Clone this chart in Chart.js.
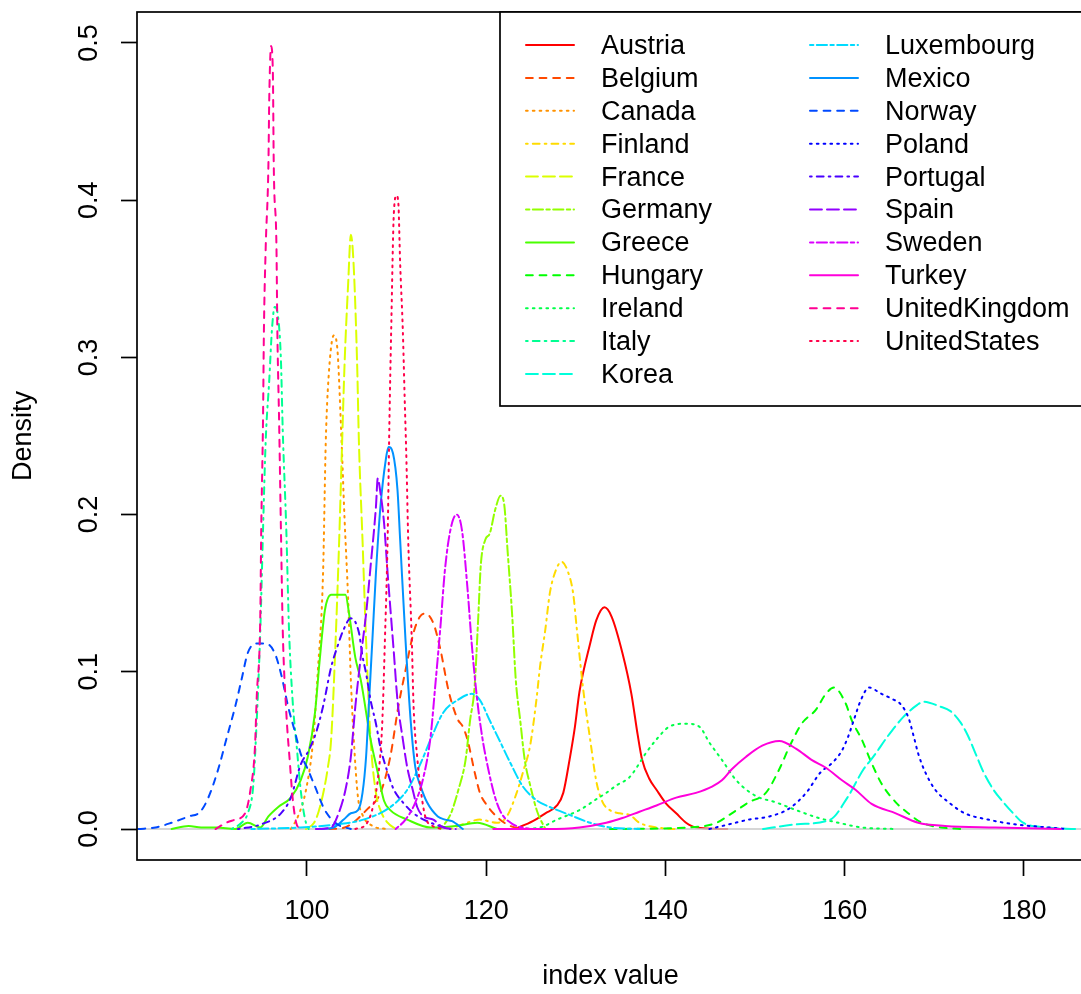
<!DOCTYPE html>
<html>
<head>
<meta charset="utf-8">
<title>Density of index value by country</title>
<script src="https://cdn.jsdelivr.net/npm/chart.js@4.4.1/dist/chart.umd.min.js"></script>
<style>
  html, body { margin: 0; padding: 0; background: #fff; overflow: hidden; }
  #wrap { width: 1084px; height: 994px; }
</style>
</head>
<body>
<div id="wrap"><canvas id="chart" width="1084" height="994"></canvas></div>
<script>
// Kernel density of the index value per country
const countries = ['Austria', 'Belgium', 'Canada', 'Finland', 'France', 'Germany', 'Greece',
  'Hungary', 'Ireland', 'Italy', 'Korea', 'Luxembourg', 'Mexico', 'Norway', 'Poland',
  'Portugal', 'Spain', 'Sweden', 'Turkey', 'UnitedKingdom', 'UnitedStates'];

const austriaX = [123.2, 125.2, 126.6, 127.9, 128.6, 129.3, 129.9, 130.4, 131.6, 132.3, 133.2, 134.0, 135.2, 136.2, 136.9, 137.4, 138.2, 139.0, 140.1, 141.2, 142.3, 143.4, 146.9];
const austriaY = [0, .005, .010, .015, .023, .044, .065, .087, .118, .133, .141, .135, .112, .086, .060, .044, .032, .025, .016, .010, .004, .001, 0];

const belgiumX = [102.5, 104.2, 106.8, 108.2, 109.3, 110.2, 111.0, 111.9, 112.6, 113.2, 114.1, 114.9, 115.8, 116.8, 117.4, 117.9, 118.8, 119.3, 120.1, 120.8, 122.3, 123.8];
const belgiumY = [0, .001, .013, .023, .046, .078, .101, .125, .135, .137, .131, .114, .088, .070, .065, .057, .034, .023, .015, .010, .003, 0];

const canadaX = [98.2, 99.0, 99.9, 100.7, 101.2, 101.8, 102.1, 102.4, 103.0, 103.4, 103.8, 104.2, 104.6, 104.9, 105.3, 105.7, 106.2, 107.3, 108.8];
const canadaY = [0, .008, .025, .057, .099, .163, .246, .286, .314, .305, .256, .197, .146, .095, .050, .020, .009, .002, 0];

const finlandX = [116.0, 117.4, 119.3, 121.2, 122.3, 123.4, 124.2, 124.9, 125.6, 126.0, 126.6, 127.1, 127.8, 128.4, 129.1, 129.7, 130.1, 130.8, 131.6, 132.3, 133.0, 133.8, 134.9, 136.0, 137.1, 139.0, 141.0];
const finlandY = [0, .003, .006, .004, .008, .023, .038, .053, .082, .103, .127, .150, .165, .170, .164, .150, .128, .090, .057, .030, .017, .012, .010, .009, .004, .001, 0];

const franceX = [99.9, 100.8, 101.3, 101.9, 102.3, 102.7, 103.2, 103.6, 103.9, 104.2, 104.6, 104.9, 105.2, 105.6, 105.8, 106.2, 106.6, 107.1, 107.7, 108.2, 109.0, 109.9];
const franceY = [0, .004, .011, .025, .038, .057, .120, .184, .241, .296, .347, .378, .360, .296, .246, .184, .120, .057, .023, .012, .004, 0];

const germanyX = [114.9, 116.0, 116.9, 117.7, 118.2, 118.7, 119.1, 119.4, 119.9, 120.4, 121.0, 121.6, 122.0, 122.4, 122.9, 123.3, 123.8, 124.3, 124.9, 125.7, 126.6];
const germanyY = [0, .009, .025, .044, .069, .090, .133, .168, .184, .188, .203, .212, .207, .176, .136, .095, .069, .044, .028, .011, 0];

const greeceX = [84.9, 86.8, 88.2, 89.9, 92.0, 93.4, 94.8, 95.7, 96.8, 98.2, 99.3, 100.1, 100.9, 101.4, 102.0, 102.7, 103.4, 104.3, 104.7, 105.4, 106.0, 107.1, 107.9, 108.6, 109.3, 111.2, 113.8, 116.6, 119.0, 121.2];
const greeceY = [0, .002, .001, .001, 0, .004, .001, .008, .014, .020, .031, .046, .074, .106, .139, .149, .149, .149, .137, .109, .095, .057, .036, .018, .012, .006, .001, .002, .004, 0];

const hungaryX = [133.8, 142.7, 145.7, 147.4, 149.3, 151.2, 152.7, 153.8, 155.2, 156.8, 157.9, 158.8, 160.1, 160.8, 161.9, 163.0, 164.1, 165.7, 167.1, 168.6, 170.8, 173.0];
const hungaryY = [0, .001, .004, .010, .017, .023, .038, .052, .067, .076, .086, .090, .080, .069, .057, .042, .029, .017, .010, .004, .001, 0];

const irelandX = [123.8, 126.0, 127.9, 130.4, 132.3, 133.4, 134.6, 136.0, 137.9, 139.0, 140.4, 142.3, 143.8, 144.9, 146.3, 147.9, 150.1, 152.3, 154.6, 157.1, 159.3, 161.9, 165.7];
const irelandY = [0, .001, .006, .012, .019, .023, .028, .033, .049, .057, .065, .067, .065, .055, .044, .031, .021, .017, .012, .007, .004, .001, 0];

const italyX = [91.6, 92.7, 93.4, 94.0, 94.3, 94.8, 95.1, 95.4, 95.8, 96.1, 96.4, 96.8, 97.1, 97.3, 97.7, 98.0, 98.4, 98.9, 99.3, 99.8, 100.2];
const italyY = [0, .004, .010, .027, .057, .127, .190, .247, .286, .318, .332, .325, .298, .254, .190, .127, .082, .050, .025, .006, 0];

const koreaX = [150.9, 154.7, 158.4, 160.3, 162.1, 163.2, 164.8, 166.5, 168.1, 168.8, 170.6, 171.8, 172.9, 173.7, 174.6, 175.5, 176.6, 177.7, 178.8, 179.9, 182.6, 185.7];
const koreaY = [0, .003, .006, .020, .038, .046, .059, .071, .079, .081, .078, .075, .068, .060, .048, .036, .025, .017, .010, .004, .001, 0];

const luxembourgX = [93.8, 99.3, 103.4, 106.3, 109.3, 111.2, 112.7, 113.8, 115.2, 116.8, 118.4, 119.3, 120.4, 121.6, 122.7, 124.1, 125.7, 127.1, 129.3, 131.6, 133.8, 137.1];
const luxembourgY = [0, .001, .003, .006, .014, .025, .042, .057, .074, .082, .086, .082, .069, .055, .042, .027, .018, .014, .009, .004, .001, 0];

const mexicoX = [101.6, 103.0, 104.1, 104.9, 105.7, 106.2, 106.6, 106.9, 107.3, 107.7, 108.2, 108.8, 109.1, 109.6, 110.1, 110.4, 111.0, 111.6, 112.1, 112.7, 113.4, 114.6, 115.4, 116.2, 117.4];
const mexicoY = [0, .001, .006, .010, .012, .023, .046, .078, .120, .163, .205, .235, .243, .239, .216, .184, .120, .067, .039, .027, .017, .008, .006, .005, 0];

const norwayX = [81.2, 83.1, 84.9, 86.8, 88.1, 89.0, 90.1, 91.0, 92.0, 92.7, 93.4, 94.3, 95.4, 96.4, 97.1, 97.9, 98.7, 99.3, 100.1, 100.9, 102.0, 103.4, 104.9];
const norwayY = [0, .001, .004, .008, .011, .020, .038, .057, .078, .095, .112, .118, .118, .112, .099, .078, .061, .048, .038, .027, .012, .003, 0];

const polandX = [144.9, 147.1, 149.3, 151.6, 153.8, 155.7, 157.3, 158.6, 159.7, 160.4, 161.0, 161.8, 162.7, 164.1, 165.2, 166.3, 167.1, 167.7, 168.2, 169.0, 170.1, 171.6, 173.4, 176.0, 179.0, 182.7, 184.9];
const polandY = [0, .003, .006, .008, .013, .023, .036, .042, .050, .059, .069, .082, .090, .086, .083, .079, .071, .059, .048, .036, .025, .017, .010, .006, .003, .001, 0];

const portugalX = [92.3, 94.9, 97.1, 98.2, 99.3, 100.2, 101.0, 101.8, 102.7, 103.4, 104.1, 104.9, 105.8, 106.2, 106.6, 107.1, 107.7, 108.2, 109.0, 109.7, 110.7, 111.9, 113.8, 116.0];
const portugalY = [0, .003, .010, .020, .041, .050, .061, .078, .103, .116, .127, .134, .125, .110, .099, .082, .067, .052, .036, .025, .017, .010, .004, 0];

const spainX = [101.0, 102.7, 103.4, 104.3, 104.9, 105.4, 106.0, 106.6, 107.1, 107.7, 107.9, 108.2, 108.6, 109.0, 109.3, 109.7, 110.1, 110.7, 111.2, 111.8, 112.3, 113.0, 114.1, 115.2, 116.6];
const spainY = [0, .001, .008, .025, .046, .078, .109, .137, .167, .205, .223, .214, .195, .163, .141, .112, .082, .057, .039, .025, .014, .008, .006, .001, 0];

const swedenX = [109.9, 111.0, 112.1, 113.0, 113.8, 114.3, 114.9, 115.4, 116.0, 116.7, 117.3, 117.9, 118.4, 119.0, 119.6, 120.2, 120.9, 121.6, 123.0, 124.9];
const swedenY = [0, .006, .017, .033, .059, .090, .129, .165, .190, .200, .190, .154, .117, .082, .057, .039, .022, .011, .003, 0];

const turkeyX = [120.8, 126.8, 130.4, 133.4, 135.2, 137.1, 139.0, 141.2, 143.4, 145.2, 146.3, 147.4, 149.0, 150.8, 152.7, 154.6, 156.3, 157.9, 159.7, 161.2, 163.0, 165.7, 168.2, 171.2, 176.8, 184.1];
const turkeyY = [0, 0, .001, .004, .007, .011, .015, .020, .023, .027, .031, .038, .046, .053, .056, .051, .044, .039, .031, .025, .016, .010, .004, .002, .001, 0];

const ukX = [89.8, 91.0, 92.0, 93.1, 93.7, 94.2, 94.4, 94.8, 94.9, 95.1, 95.2, 95.4, 95.7, 95.8, 96.0, 96.2, 96.3, 96.6, 96.7, 96.9, 97.1, 97.3, 97.7, 98.1, 98.4, 98.8, 99.3];
const ukY = [0, .004, .006, .010, .025, .052, .084, .137, .190, .260, .317, .370, .422, .466, .498, .481, .422, .370, .317, .258, .190, .127, .074, .042, .020, .004, 0];

const usX = [105.4, 106.6, 107.4, 108.0, 108.4, 108.7, 109.0, 109.2, 109.4, 109.7, 110.0, 110.2, 110.4, 110.7, 110.9, 111.1, 111.3, 111.7, 111.9, 112.3, 112.7, 113.2, 114.0, 115.4];
const usY = [0, .003, .015, .036, .067, .120, .184, .258, .317, .392, .403, .398, .360, .317, .275, .235, .184, .120, .078, .046, .025, .008, .002, 0];

const xTickValues = [100, 120, 140, 160, 180];
const xTickLabels = ['100', '120', '140', '160', '180'];
const yTickValues = [0, 0.1, 0.2, 0.3, 0.4, 0.5];
const yTickLabels = ['0.0', '0.1', '0.2', '0.3', '0.4', '0.5'];
const xRange = [81.04, 186.7];
const yRange = [-0.0197, 0.5197];

const densities = [
  [austriaX, austriaY], [belgiumX, belgiumY], [canadaX, canadaY], [finlandX, finlandY],
  [franceX, franceY], [germanyX, germanyY], [greeceX, greeceY], [hungaryX, hungaryY],
  [irelandX, irelandY], [italyX, italyY], [koreaX, koreaY], [luxembourgX, luxembourgY],
  [mexicoX, mexicoY], [norwayX, norwayY], [polandX, polandY], [portugalX, portugalY],
  [spainX, spainY], [swedenX, swedenY], [turkeyX, turkeyY], [ukX, ukY], [usX, usY]
];

// R rainbow(21) and lty 1..6 recycled
const lineColors = ['#FF0000', '#FF4900', '#FF9200', '#FFDB00', '#DBFF00', '#92FF00', '#49FF00',
  '#00FF00', '#00FF49', '#00FF92', '#00FFDB', '#00DBFF', '#0092FF', '#0049FF', '#0000FF',
  '#4900FF', '#9200FF', '#DB00FF', '#FF00DB', '#FF0092', '#FF0049'];

const LWD = 1.7;  // one R line width unit in pixels here
const CURVE_WIDTH = 2;
const ltyPatterns = [[], [4, 4], [1, 3], [1, 3, 4, 3], [7, 3], [2, 2, 6, 2]];
const FONT = "'Liberation Sans', Arial, Helvetica, sans-serif";

function toPoints(xs, ys) {
  return xs.map((x, i) => ({ x: x, y: ys[i] }));
}

const curveSets = countries.map((name, i) => ({
  label: name,
  data: toPoints(densities[i][0], densities[i][1]),
  borderColor: lineColors[i],
  borderWidth: CURVE_WIDTH,
  borderDash: ltyPatterns[i % 6].map(d => d * LWD),
  borderCapStyle: 'round',
  borderJoinStyle: 'round',
  cubicInterpolationMode: 'monotone',
  pointRadius: 0,
  fill: false
}));

// plot.density draws its grey zero line right after the first curve
const zeroLine = {
  label: '',
  data: toPoints(xRange, [0, 0]),
  borderColor: '#c8c8c8',
  borderWidth: 1.6,
  pointRadius: 0,
  fill: false,
  isZeroLine: true
};

const datasets = [curveSets[0], zeroLine].concat(curveSets.slice(1));
// later series are drawn on top, as with lines() in R
datasets.forEach((ds, i) => { ds.order = datasets.length - i; });

const plotBox = {
  id: 'plotBox',
  afterDraw(chart) {
    const { ctx, chartArea } = chart;
    ctx.save();
    ctx.strokeStyle = '#000';
    ctx.lineWidth = LWD;
    ctx.strokeRect(chartArea.left, chartArea.top, chartArea.right - chartArea.left, chartArea.bottom - chartArea.top);
    ctx.restore();
  }
};

// two-column legend in the top right corner, like legend(ncol = 2) in R
const rLegend = {
  id: 'rLegend',
  afterDraw(chart) {
    const { ctx, chartArea } = chart;
    const boxLeft = 500;
    const boxBottom = 406;
    const rowsPerCol = 11;
    const firstRowY = 45;
    const rowStep = 32.9;
    const colLineX = [526, 810];
    const segLen = 48;
    const textGap = 75;

    ctx.save();
    ctx.fillStyle = '#fff';
    ctx.fillRect(boxLeft, chartArea.top, chartArea.right - boxLeft, boxBottom - chartArea.top);
    ctx.strokeStyle = '#000';
    ctx.lineWidth = LWD;
    ctx.strokeRect(boxLeft, chartArea.top, chartArea.right - boxLeft, boxBottom - chartArea.top);

    const entries = chart.data.datasets.filter(ds => !ds.isZeroLine);
    ctx.font = '27px ' + FONT;
    ctx.textBaseline = 'middle';
    ctx.textAlign = 'left';
    entries.forEach((ds, i) => {
      const col = Math.floor(i / rowsPerCol);
      const row = i % rowsPerCol;
      const y = firstRowY + row * rowStep;
      const x = colLineX[col];
      ctx.beginPath();
      ctx.strokeStyle = ds.borderColor;
      ctx.lineWidth = ds.borderWidth;
      ctx.lineCap = 'round';
      ctx.setLineDash(ds.borderDash);
      ctx.moveTo(x, y);
      ctx.lineTo(x + segLen, y);
      ctx.stroke();
      ctx.setLineDash([]);
      ctx.fillStyle = '#000';
      ctx.fillText(ds.label, x + textGap, y + 1.5);
    });
    ctx.restore();
  }
};

const tickFont = { family: FONT, size: 27 };

new Chart(document.getElementById('chart'), {
  type: 'line',
  data: { datasets: datasets },
  plugins: [plotBox, rLegend],
  options: {
    responsive: false,
    animation: false,
    layout: { padding: { top: 12, left: 0, right: 0, bottom: 0 } },
    plugins: {
      legend: { display: false },
      tooltip: { enabled: false }
    },
    scales: {
      x: {
        type: 'linear',
        min: xRange[0],
        max: xRange[1],
        afterBuildTicks: (scale) => { scale.ticks = xTickValues.map(v => ({ value: v })); },
        afterFit: (scale) => {
          scale.height = 134;
          scale.paddingLeft = 0;
          scale.paddingRight = 0;
        },
        border: { display: false },
        grid: { display: true, drawOnChartArea: false, drawTicks: true, tickLength: 16, tickWidth: LWD, tickColor: '#000' },
        ticks: {
          autoSkip: false,
          maxRotation: 0,
          padding: 19,
          color: '#000',
          font: tickFont,
          callback: (value, index) => xTickLabels[index]
        },
        title: {
          display: true,
          text: 'index value',
          color: '#000',
          font: tickFont,
          padding: { top: 0, bottom: 1 }
        }
      },
      y: {
        type: 'linear',
        min: yRange[0],
        max: yRange[1],
        afterBuildTicks: (scale) => { scale.ticks = yTickValues.map(v => ({ value: v })); },
        afterFit: (scale) => {
          scale.width = 137;
          scale.paddingTop = 0;
          scale.paddingBottom = 0;
        },
        border: { display: false },
        grid: { display: true, drawOnChartArea: false, drawTicks: true, tickLength: 16, tickWidth: LWD, tickColor: '#000' },
        ticks: {
          autoSkip: false,
          minRotation: 90,
          maxRotation: 90,
          crossAlign: 'center',
          padding: 13,
          color: '#000',
          font: tickFont,
          callback: (value, index) => yTickLabels[index]
        },
        title: {
          display: true,
          text: 'Density',
          color: '#000',
          font: tickFont,
          padding: { top: 7, bottom: 0 }
        }
      }
    }
  }
});
</script>
</body>
</html>
